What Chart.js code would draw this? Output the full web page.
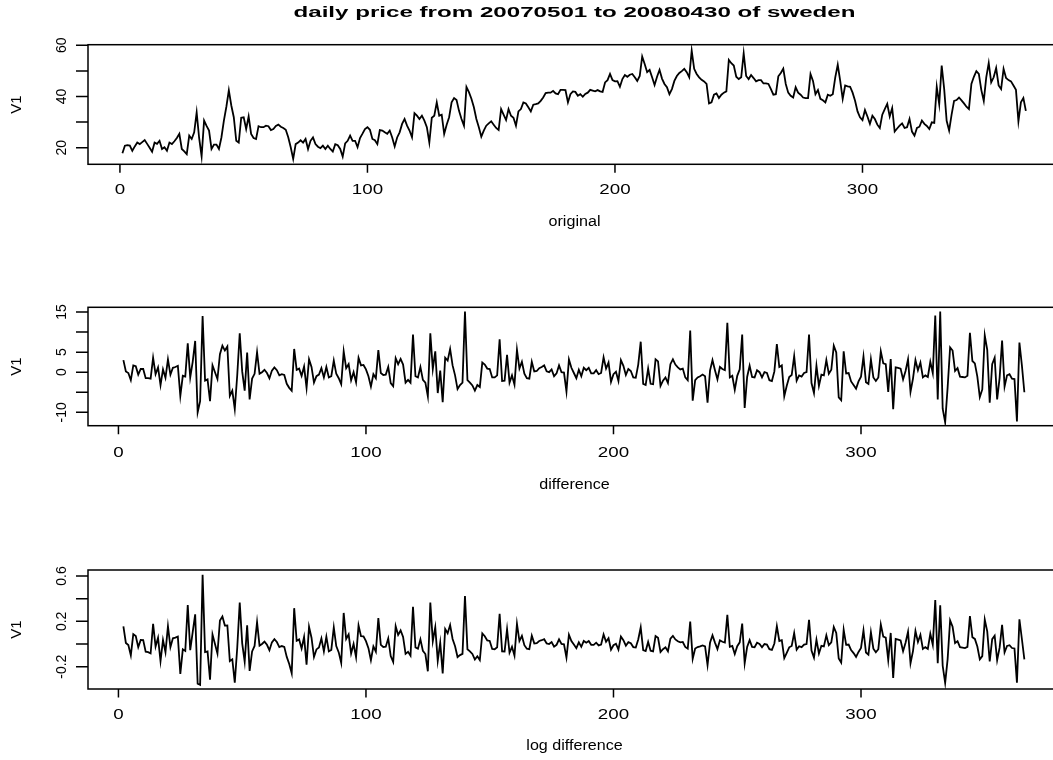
<!DOCTYPE html>
<html>
<head>
<meta charset="utf-8">
<script src="https://cdn.jsdelivr.net/npm/chart.js@4.4.0/dist/chart.umd.min.js"></script>
<style>
  html, body { margin: 0; padding: 0; background: #fff; width: 1053px; height: 760px; overflow: hidden; }
  .panel { position: absolute; left: 0; }
</style>
</head>
<body>
<div class="panel" style="top:0"><canvas id="cOrig" width="1070" height="250"></canvas></div>
<div class="panel" style="top:250px"><canvas id="cDiff" width="1070" height="260"></canvas></div>
<div class="panel" style="top:510px"><canvas id="cLog" width="1070" height="250"></canvas></div>
<script>
// daily price, 20070501 .. 20080430
const price = [
  17.8, 20.8, 21.0, 20.8, 18.8, 20.5, 22.0, 21.4, 22.2, 23.0,
  21.5, 20.0, 18.4, 22.0, 21.5, 22.7, 19.5, 20.2, 18.8, 22.0,
  21.4, 22.5, 23.8, 25.4, 19.5, 18.6, 17.5, 24.7, 23.4, 26.0,
  33.8, 23.8, 16.6, 30.6, 28.5, 26.7, 19.5, 21.2, 21.2, 19.5,
  24.0, 30.6, 36.0, 42.4, 36.5, 31.9, 22.7, 22.0, 31.7, 31.9,
  27.3, 32.2, 25.4, 23.8, 23.4, 28.4, 28.0, 28.0, 28.6, 28.4,
  26.9, 27.3, 28.5, 29.0, 28.2, 27.7, 27.0, 24.1, 20.2, 15.6,
  21.4, 22.0, 22.9, 22.0, 23.4, 19.5, 22.7, 24.0, 21.4, 20.4,
  19.8, 20.8, 19.5, 20.8, 19.5, 18.5, 21.4, 21.0, 19.5, 16.5,
  21.7, 22.7, 24.7, 22.7, 22.7, 20.2, 23.8, 25.5, 27.3, 28.0,
  27.0, 23.4, 22.9, 21.4, 26.9, 26.7, 26.0, 25.4, 26.7, 24.0,
  20.5, 24.0, 26.0, 29.3, 31.2, 28.6, 26.7, 24.1, 33.5, 32.5,
  31.2, 32.5, 30.6, 28.0, 22.0, 31.7, 32.5, 37.7, 32.5, 32.9,
  25.4, 29.0, 31.9, 37.7, 39.4, 38.6, 34.4, 31.2, 28.6, 43.7,
  41.7, 39.1, 35.8, 31.2, 28.0, 24.3, 26.7, 28.6, 29.5, 30.3,
  29.0, 27.7, 26.9, 35.1, 32.9, 30.8, 35.1, 32.5, 31.7, 28.6,
  34.2, 35.1, 37.7, 37.3, 35.8, 34.2, 36.8, 37.0, 37.3, 38.3,
  39.6, 41.3, 41.5, 41.5, 42.2, 41.2, 40.9, 42.6, 42.6, 42.5,
  37.7, 40.9, 42.0, 41.8, 40.3, 40.9, 39.9, 41.0, 41.5, 42.6,
  42.3, 42.0, 42.5, 42.0, 41.8, 45.5, 46.4, 48.8, 46.4, 45.9,
  46.0, 43.8, 46.8, 48.4, 47.7, 48.5, 48.8, 47.5, 46.1, 48.0,
  55.6, 52.7, 49.5, 50.4, 47.5, 44.5, 47.7, 50.4, 47.0, 44.9,
  43.6, 40.9, 42.9, 46.1, 48.0, 49.2, 49.9, 50.8, 49.5, 47.5,
  57.9, 50.8, 48.8, 47.5, 46.5, 45.9, 44.9, 37.3, 37.7, 40.7,
  41.2, 39.4, 40.7, 41.5, 42.0, 54.3, 53.0, 52.1, 47.7, 46.8,
  47.5, 56.9, 48.0, 46.8, 48.4, 47.2, 45.9, 46.4, 46.4, 45.1,
  45.1, 44.9, 42.9, 40.7, 40.9, 47.9, 49.2, 50.9, 44.9, 41.5,
  40.3, 39.6, 43.6, 41.5, 40.7, 39.6, 39.4, 39.4, 48.8, 46.1,
  40.9, 42.5, 39.1, 38.5, 37.7, 40.7, 40.3, 40.9, 47.5, 52.4,
  46.1, 39.1, 44.3, 44.0, 43.8, 41.5, 38.3, 34.2, 31.9, 30.8,
  34.7, 32.2, 29.3, 32.5, 31.2, 29.0, 27.7, 32.9, 35.1, 37.1,
  32.2, 35.5, 26.3, 27.5, 28.6, 29.5, 27.7, 28.0, 31.2, 26.3,
  24.7, 27.7, 28.2, 30.6, 29.3, 28.5, 27.3, 29.9, 29.7, 43.8,
  37.0, 52.1, 43.0, 30.5, 26.7, 32.9, 38.3, 38.6, 39.6, 38.5,
  37.3, 36.0, 35.1, 44.9, 47.7, 49.9, 48.8, 42.6, 38.3, 47.5,
  53.1, 45.5, 47.5, 51.1, 44.3, 42.9, 50.8, 47.2, 46.4, 45.9,
  44.3, 42.6, 30.3, 37.7, 39.4, 34.4
];
const days = price.map((_, i) => i + 1);

// difference and log difference of the same series, plotted at day 2..366
const diffDays = days.slice(1);
const diffVals = price.slice(1).map((v, i) => v - price[i]);
const logDiffVals = price.slice(1).map((v, i) => Math.log(v) - Math.log(price[i]));

const xTicks = [0, 100, 200, 300];
const origTicks = [20, 30, 40, 50, 60];
const origLabels = [20, 40, 60];
const diffTicks = [-10, -5, 0, 5, 10, 15];
const diffLabels = [-10, 0, 5, 15];
const logTicks = [-0.2, 0, 0.2, 0.4, 0.6];
const logLabels = [-0.2, 0.2, 0.6];

const FONT = '"Liberation Sans", Arial, Helvetica, sans-serif';

// R-like base graphics frame: box, outward ticks, rotated y labels
const rFrame = {
  id: 'rFrame',
  afterDraw(chart, args, o) {
    const { ctx, chartArea: a, scales } = chart;
    const xs = scales.x, ys = scales.y;
    ctx.save();
    ctx.strokeStyle = '#000';
    ctx.fillStyle = '#000';
    ctx.lineWidth = 1.5;
    ctx.strokeRect(a.left, a.top, a.right - a.left, a.bottom - a.top);

    // x axis
    ctx.beginPath();
    o.xTicks.forEach(t => {
      const px = xs.getPixelForValue(t);
      ctx.moveTo(px, a.bottom); ctx.lineTo(px, a.bottom + 8.5);
    });
    ctx.stroke();
    ctx.font = '15px ' + FONT;
    ctx.textAlign = 'center';
    ctx.textBaseline = 'middle';
    o.xTicks.forEach(t => {
      ctx.save();
      ctx.translate(xs.getPixelForValue(t), a.bottom + o.xLabelGap);
      ctx.scale(1.25, 1);
      ctx.fillText(String(t), 0, 0);
      ctx.restore();
    });

    // y axis
    ctx.beginPath();
    o.yTicks.forEach(t => {
      const py = ys.getPixelForValue(t);
      ctx.moveTo(a.left, py); ctx.lineTo(a.left - 12, py);
    });
    ctx.stroke();
    ctx.font = '14px ' + FONT;
    o.yLabels.forEach(t => {
      ctx.save();
      ctx.translate(62, ys.getPixelForValue(t));
      ctx.rotate(-Math.PI / 2);
      ctx.fillText(String(t), 0, 0);
      ctx.restore();
    });

    // axis titles
    ctx.save();
    ctx.font = '15px ' + FONT;
    ctx.translate(17, (a.top + a.bottom) / 2);
    ctx.rotate(-Math.PI / 2);
    ctx.fillText('V1', 0, 0);
    ctx.restore();

    ctx.save();
    ctx.font = '14px ' + FONT;
    ctx.translate((a.left + a.right) / 2, a.bottom + o.xTitleGap);
    ctx.scale(1.15, 1);
    ctx.fillText(o.xTitle, 0, 0);
    ctx.restore();

    if (o.title) {
      ctx.save();
      ctx.font = 'bold 15px ' + FONT;
      const w = ctx.measureText(o.title).width;
      ctx.translate((a.left + a.right) / 2, 13);
      ctx.scale(562 / w, 1);
      ctx.fillText(o.title, 0, 0);
      ctx.restore();
    }
    ctx.restore();
  }
};

function makePanel(id, xs, ys, pad, xRange, yRange, frame) {
  return new Chart(document.getElementById(id), {
    type: 'line',
    data: {
      datasets: [{
        data: xs.map((x, i) => ({ x, y: ys[i] })),
        borderColor: '#000',
        borderWidth: 1.8,
        pointRadius: 0,
        tension: 0,
        fill: false
      }]
    },
    options: {
      responsive: false,
      animation: false,
      events: [],
      layout: { padding: pad },
      plugins: { legend: { display: false }, tooltip: { enabled: false }, rFrame: frame },
      scales: {
        x: { type: 'linear', display: false, min: xRange[0], max: xRange[1] },
        y: { type: 'linear', display: false, min: yRange[0], max: yRange[1] }
      }
    },
    plugins: [rFrame]
  });
}

makePanel('cOrig', days, price,
  { left: 88, right: 9, top: 44.7, bottom: 85.7 },
  [-12.9, 380.2], [13.52, 60.23],
  { xTicks, yTicks: origTicks, yLabels: origLabels, xLabelGap: 25.7, xTitleGap: 57.7,
    xTitle: 'original', title: 'daily price from 20070501 to 20080430 of sweden' });

makePanel('cDiff', diffDays, diffVals,
  { left: 88, right: 9, top: 57.3, bottom: 84.3 },
  [-12.3, 380.8], [-13.34, 16.18],
  { xTicks, yTicks: diffTicks, yLabels: diffLabels, xLabelGap: 27.3, xTitleGap: 59.3,
    xTitle: 'difference' });

makePanel('cLog', diffDays, logDiffVals,
  { left: 88, right: 9, top: 60, bottom: 71 },
  [-12.3, 380.8], [-0.397, 0.653],
  { xTicks, yTicks: logTicks, yLabels: logLabels, xLabelGap: 26, xTitleGap: 57,
    xTitle: 'log difference' });
</script>
</body>
</html>
